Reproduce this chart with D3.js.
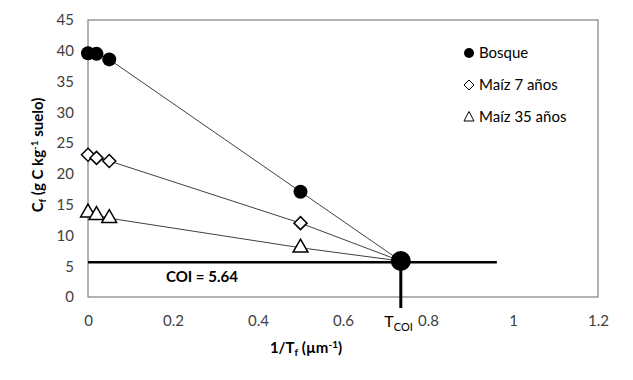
<!DOCTYPE html>
<html>
<head>
<meta charset="utf-8">
<script src="https://cdn.jsdelivr.net/npm/d3@7"></script>
<style>
  body { margin: 0; background: #fff; }
  text { font-family: Lato, "Open Sans", sans-serif; }
</style>
</head>
<body>
<div id="chart"></div>
<script>
// measured points (1/Tf) and Cf per land use
const xVals = [0, 0.02, 0.05, 0.5];
const bosque = [39.6, 39.5, 38.6, 17.1];
const maiz7 = [23.1, 22.6, 22.1, 12.0];
const maiz35 = [13.7, 13.3, 12.8, 8.0];
const seriesNames = ['Bosque', 'Maíz 7 años', 'Maíz 35 años'];
const tcoi = 0.736;
const coi = 5.64;
const coiLineEnd = 0.962;
const xTicks = [0, 0.2, 0.4, 0.6, 0.8, 1, 1.2];
const yTicks = [0, 5, 10, 15, 20, 25, 30, 35, 40, 45];

const W = 633, H = 380;
const margin = { left: 88, top: 20, right: 35, bottom: 83 };
const width = W - margin.left - margin.right;
const height = H - margin.top - margin.bottom;

const svg = d3.select('#chart').append('svg')
  .attr('width', W).attr('height', H);

const g = svg.append('g')
  .attr('transform', `translate(${margin.left},${margin.top})`);

const x = d3.scaleLinear().domain([0, 1.2]).range([0, width]);
const y = d3.scaleLinear().domain([0, 45]).range([height, 0]);

// plot frame
g.append('rect')
  .attr('x', 0).attr('y', 0)
  .attr('width', width).attr('height', height)
  .attr('fill', 'none').attr('stroke', '#808080').attr('stroke-width', 1.2);

// axes (labels only, no tick marks)
const xAxis = g.append('g').attr('transform', `translate(0,${height})`)
  .call(d3.axisBottom(x).tickValues(xTicks).tickSize(0).tickPadding(18).tickFormat(d => d3.format('')(d)));
const yAxis = g.append('g')
  .call(d3.axisLeft(y).tickValues(yTicks).tickSize(0).tickPadding(14));
[xAxis, yAxis].forEach(a => {
  a.select('.domain').remove();
  a.selectAll('text').attr('font-size', '15px').attr('fill', '#404040')
    .style('font-family', 'Lato, "Open Sans", sans-serif');
});

// COI horizontal line
g.append('line')
  .attr('x1', x(0)).attr('x2', x(coiLineEnd))
  .attr('y1', y(coi)).attr('y2', y(coi))
  .attr('stroke', '#000').attr('stroke-width', 2.5);

// Tcoi vertical line
g.append('line')
  .attr('x1', x(tcoi)).attr('x2', x(tcoi))
  .attr('y1', y(coi)).attr('y2', height + 11)
  .attr('stroke', '#000').attr('stroke-width', 3);

const data = [bosque, maiz7, maiz35].map(vals =>
  xVals.map((xv, i) => ({ x: xv, y: vals[i] })));

const line = d3.line().x(d => x(d.x)).y(d => y(d.y));

data.forEach(pts => {
  const withEnd = pts.concat([{ x: tcoi, y: coi + 0.2 }]);
  g.append('path')
    .attr('d', line(withEnd))
    .attr('fill', 'none').attr('stroke', '#404040').attr('stroke-width', 1);
});

const triangle = d3.symbol().type(d3.symbolTriangle).size(95);
const diamond = s => `M0,${-s}L${s},0L0,${s}L${-s},0Z`;

// Bosque circles
g.selectAll('.bosque').data(data[0]).enter().append('circle')
  .attr('cx', d => x(d.x)).attr('cy', d => y(d.y)).attr('r', 7)
  .attr('fill', '#000');

// Maiz 7 diamonds
g.selectAll('.m7').data(data[1]).enter().append('path')
  .attr('d', diamond(6.5))
  .attr('transform', d => `translate(${x(d.x)},${y(d.y)})`)
  .attr('fill', '#fff').attr('stroke', '#000').attr('stroke-width', 1.5);

// Maiz 35 triangles
g.selectAll('.m35').data(data[2]).enter().append('path')
  .attr('d', triangle)
  .attr('transform', d => `translate(${x(d.x)},${y(d.y)})`)
  .attr('fill', '#fff').attr('stroke', '#000').attr('stroke-width', 1.5);

// Tcoi point
g.append('circle')
  .attr('cx', x(tcoi)).attr('cy', y(coi + 0.2)).attr('r', 10)
  .attr('fill', '#000');

// COI label
g.append('text')
  .attr('x', x(0.268)).attr('y', y(coi) + 20)
  .attr('text-anchor', 'middle')
  .attr('font-size', '15px').attr('font-weight', 'bold').attr('fill', '#000')
  .text('COI = 5.64');

// Tcoi label
const tl = g.append('text')
  .attr('x', x(tcoi) + 12).attr('y', height + 30)
  .attr('text-anchor', 'end')
  .attr('font-size', '16px').attr('fill', '#000');
tl.append('tspan').text('T');
tl.append('tspan').attr('font-size', '11px').attr('dy', 4).text('COI');

// legend
const legend = svg.append('g').attr('transform', 'translate(469,53)');
seriesNames.forEach((name, i) => {
  const row = legend.append('g').attr('transform', `translate(0,${i * 32})`);
  if (i === 0) row.append('circle').attr('r', 5).attr('fill', '#000');
  if (i === 1) row.append('path').attr('d', diamond(5)).attr('fill', '#fff').attr('stroke', '#000').attr('stroke-width', 1);
  if (i === 2) row.append('path').attr('d', 'M0,-5.5L5,4L-5,4Z').attr('fill', '#fff').attr('stroke', '#000').attr('stroke-width', 1);
  row.append('text').attr('x', 10).attr('y', 5)
    .attr('font-size', '15px').attr('fill', '#000').text(name);
});

// axis titles
const xt = svg.append('text')
  .attr('x', 306).attr('y', 353)
  .attr('text-anchor', 'middle')
  .attr('font-size', '15px').attr('font-weight', 'bold').attr('fill', '#000');
xt.append('tspan').text('1/T');
xt.append('tspan').attr('font-size', '10px').attr('dy', 3).text('f');
xt.append('tspan').attr('dy', -3).text(' (µm');
xt.append('tspan').attr('font-size', '10px').attr('dy', -5).text('-1');
xt.append('tspan').attr('dy', 5).text(')');

const yt = svg.append('text')
  .attr('transform', 'translate(43,155) rotate(-90)')
  .attr('text-anchor', 'middle')
  .attr('font-size', '15px').attr('font-weight', 'bold').attr('fill', '#000');
yt.append('tspan').text('C');
yt.append('tspan').attr('font-size', '10px').attr('dy', 3).text('f');
yt.append('tspan').attr('dy', -3).text(' (g C kg');
yt.append('tspan').attr('font-size', '10px').attr('dy', -5).text('-1');
yt.append('tspan').attr('dy', 5).text(' suelo)');
</script>
</body>
</html>
